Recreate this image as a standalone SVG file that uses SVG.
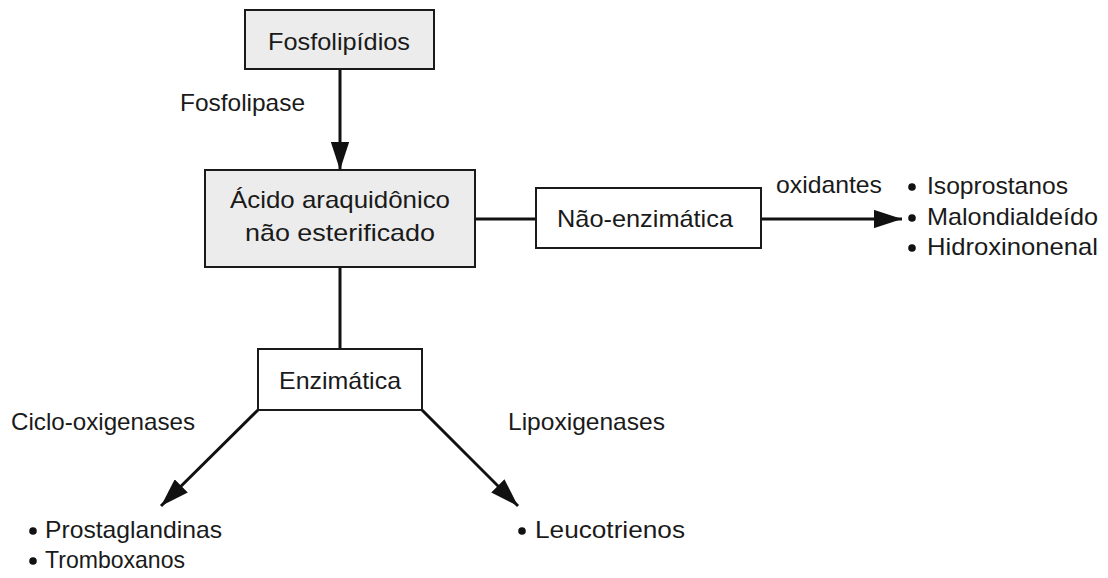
<svg xmlns="http://www.w3.org/2000/svg" width="1108" height="578" viewBox="0 0 1108 578">
<style>
text{font-family:"Liberation Sans",Arial,sans-serif;font-size:24px;fill:#1a1a1a}
.c{text-anchor:middle}
.box{stroke:#1a1a1a;stroke-width:2}
.g{fill:#ececec}
.w{fill:#ffffff}
.ln{stroke:#111;stroke-width:3;fill:none}
.dot{fill:#111}
</style>
<defs>
<marker id="ah" viewBox="0 0 10 10" refX="10" refY="5" markerWidth="9.5" markerHeight="6.2" markerUnits="strokeWidth" orient="auto" preserveAspectRatio="none">
<path d="M0,0 L10,5 L0,10 z" fill="#111"/>
</marker>
</defs>
<rect width="1108" height="578" fill="#fff"/>
<g id="connectors">
<line class="ln" x1="340" y1="69" x2="340" y2="170" marker-end="url(#ah)"/>
<line class="ln" x1="475" y1="219" x2="536" y2="219"/>
<line class="ln" x1="761" y1="219" x2="902" y2="219" marker-end="url(#ah)"/>
<line class="ln" x1="340" y1="267" x2="340" y2="349"/>
<line class="ln" x1="258" y1="410" x2="161" y2="506" marker-end="url(#ah)"/>
<line class="ln" x1="422" y1="410" x2="518" y2="506" marker-end="url(#ah)"/>
<text x="180" y="111" textLength="125" lengthAdjust="spacingAndGlyphs">Fosfolipase</text>
<text x="776" y="193" textLength="106" lengthAdjust="spacingAndGlyphs">oxidantes</text>
<text x="11" y="430" textLength="184" lengthAdjust="spacingAndGlyphs">Ciclo-oxigenases</text>
<text x="508" y="430" textLength="157" lengthAdjust="spacingAndGlyphs">Lipoxigenases</text>
</g>
<g id="fosfolipidios">
<rect class="box g" x="245" y="10" width="189" height="59"/>
<text class="c" x="339" y="50" textLength="142" lengthAdjust="spacingAndGlyphs">Fosfolipídios</text>
</g>
<g id="acido">
<rect class="box g" x="205" y="170" width="270" height="97"/>
<text class="c" x="340" y="208" textLength="220" lengthAdjust="spacingAndGlyphs">Ácido araquidônico</text>
<text class="c" x="340" y="241" textLength="190" lengthAdjust="spacingAndGlyphs">não esterificado</text>
</g>
<g id="nao-enzimatica">
<rect class="box w" x="536" y="188" width="225" height="60"/>
<text class="c" x="645" y="227" textLength="176" lengthAdjust="spacingAndGlyphs">Não-enzimática</text>
</g>
<g id="produtos-oxidantes">
<circle class="dot" cx="912" cy="187" r="3.8"/>
<text x="927" y="194" textLength="141" lengthAdjust="spacingAndGlyphs">Isoprostanos</text>
<circle class="dot" cx="912" cy="218" r="3.8"/>
<text x="927" y="225" textLength="171" lengthAdjust="spacingAndGlyphs">Malondialdeído</text>
<circle class="dot" cx="912" cy="248" r="3.8"/>
<text x="927" y="255" textLength="171" lengthAdjust="spacingAndGlyphs">Hidroxinonenal</text>
</g>
<g id="enzimatica">
<rect class="box w" x="258" y="349" width="164" height="61"/>
<text class="c" x="340" y="389" textLength="122" lengthAdjust="spacingAndGlyphs">Enzimática</text>
</g>
<g id="ciclo-produtos">
<circle class="dot" cx="33" cy="531" r="3.8"/>
<text x="45" y="538" textLength="177" lengthAdjust="spacingAndGlyphs">Prostaglandinas</text>
<circle class="dot" cx="33" cy="561" r="3.8"/>
<text x="45" y="568" textLength="140" lengthAdjust="spacingAndGlyphs">Tromboxanos</text>
</g>
<g id="lipo-produtos">
<circle class="dot" cx="522" cy="531" r="3.8"/>
<text x="535" y="538" textLength="150" lengthAdjust="spacingAndGlyphs">Leucotrienos</text>
</g>
</svg>
